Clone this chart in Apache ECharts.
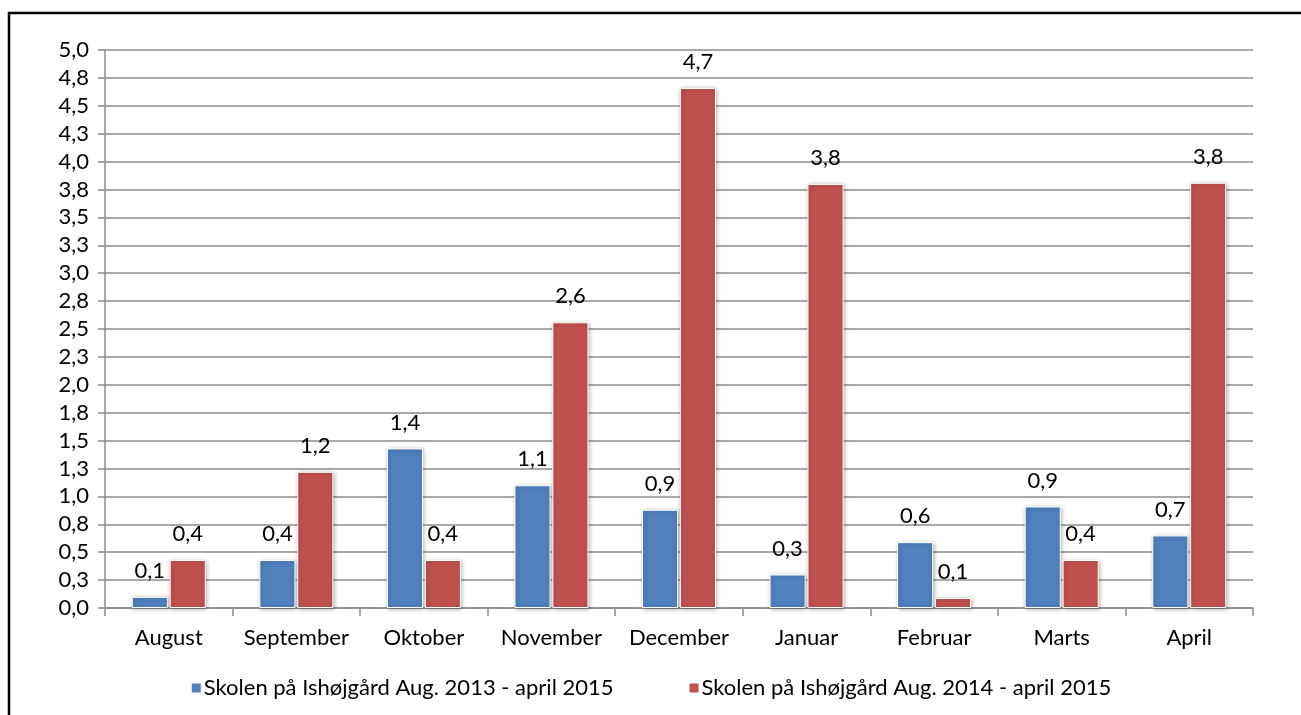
<!DOCTYPE html>
<html>
<head>
<meta charset="utf-8">
<script src="https://cdn.jsdelivr.net/npm/echarts@6/dist/echarts.min.js"></script>
<style>
  html, body { margin: 0; padding: 0; background: #fff; }
  #chart { width: 1301px; height: 715px; }
</style>
</head>
<body>
<div id="chart"></div>
<script>
var months = ['August', 'September', 'Oktober', 'November', 'December', 'Januar', 'Februar', 'Marts', 'April'];
var seriesNames = ['Skolen på Ishøjgård Aug. 2013 - april 2015', 'Skolen på Ishøjgård Aug. 2014 - april 2015'];
var values2013 = [0.10, 0.43, 1.43, 1.10, 0.88, 0.30, 0.59, 0.91, 0.65];
var values2014 = [0.43, 1.22, 0.43, 2.56, 4.66, 3.80, 0.09, 0.43, 3.81];

var font = 'Lato';
var fontSize = 22;

function comma(v) {
    return v.toFixed(1).replace('.', ',');
}

function barSeries(name, data, color) {
    return {
        name: name,
        type: 'bar',
        data: data,
        barGap: '5%',
        barCategoryGap: '42%',
        itemStyle: {
            color: color,
            borderColor: '#fff',
            borderWidth: 1,
            shadowColor: 'rgba(0,0,0,0.3)',
            shadowBlur: 4,
            shadowOffsetX: 1,
            shadowOffsetY: 1
        },
        label: {
            show: true,
            position: 'top',
            distance: 15,
            fontFamily: font,
            fontSize: fontSize,
            color: '#000',
            formatter: function(p) { return comma(p.value); }
        }
    };
}

var chart = echarts.init(document.getElementById('chart'));
chart.setOption({
    animation: false,
    backgroundColor: '#fff',
    graphic: [{
        type: 'rect',
        shape: { x: 9, y: 13, width: 1300, height: 710 },
        style: { fill: 'none', stroke: '#000', lineWidth: 2.5 },
        silent: true
    }],
    grid: { left: 105, right: 48, top: 50, bottom: 107 },
    legend: {
        top: 672,
        left: 'center',
        itemWidth: 11,
        itemHeight: 11,
        itemGap: 74,
        icon: 'rect',
        textStyle: { fontFamily: font, fontSize: fontSize, color: '#000', padding: [0, 0, 0, -3] },
        data: seriesNames
    },
    xAxis: {
        type: 'category',
        data: months,
        axisLine: { lineStyle: { color: '#8c8c8c', width: 1.5 } },
        axisTick: { show: true, length: 8, lineStyle: { color: '#8c8c8c', width: 1.5 } },
        axisLabel: { interval: 0, fontFamily: font, fontSize: fontSize, color: '#000', margin: 19 }
    },
    yAxis: {
        type: 'value',
        min: 0,
        max: 5,
        interval: 0.25,
        axisLine: { show: true, lineStyle: { color: '#8c8c8c', width: 1.5 } },
        axisTick: { show: true, length: 7, lineStyle: { color: '#8c8c8c', width: 1.5 } },
        splitLine: { lineStyle: { color: '#8c8c8c', width: 1.5 } },
        axisLabel: {
            fontFamily: font, fontSize: fontSize, color: '#000', margin: 16,
            formatter: function(v) { return comma(v); }
        }
    },
    series: [
        barSeries(seriesNames[0], values2013, '#4F81BD'),
        barSeries(seriesNames[1], values2014, '#C0504D')
    ]
});
</script>
</body>
</html>
